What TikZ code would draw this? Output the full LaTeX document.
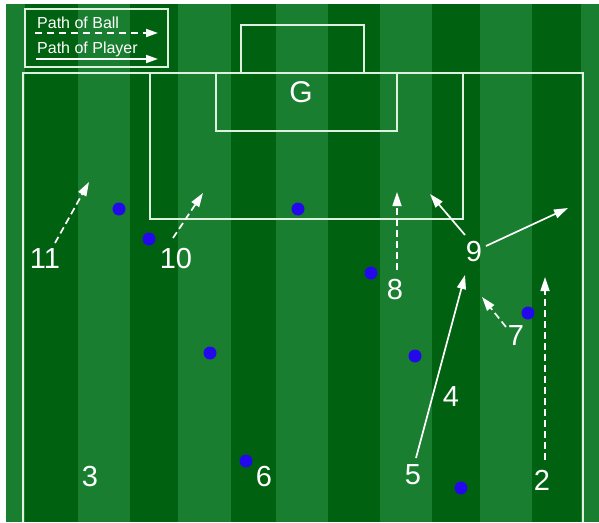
\documentclass[tikz,border=0pt]{standalone}
\usepackage{fontspec}
\setmainfont{Liberation Sans}
\usetikzlibrary{arrows.meta}
\definecolor{darkgrass}{RGB}{0,98,16}
\definecolor{lightgrass}{RGB}{25,126,48}
\definecolor{chalk}{RGB}{222,240,222}
\definecolor{playerblue}{RGB}{36,8,236}
\begin{document}
\begin{tikzpicture}[x=1pt,y=-1pt,
  fieldline/.style={draw=chalk, line width=2.2pt},
  player/.style={circle, fill=playerblue, inner sep=0pt, minimum size=13pt},
  num/.style={text=white, font=\fontsize{29}{29}\selectfont, inner sep=0pt},
  legendtext/.style={text=white, font=\fontsize{16}{16}\selectfont, inner sep=0pt, anchor=base west},
  ballpath/.style={draw=white, line width=1.7pt, dash pattern=on 7pt off 4pt, -{Triangle[length=14pt,width=9pt]}},
  playerpath/.style={draw=white, line width=1.7pt, -{Triangle[length=14pt,width=9pt]}},
  legball/.style={draw=white, line width=1.7pt, dash pattern=on 7pt off 5pt, -{Triangle[length=12pt,width=8pt]}},
  legplayer/.style={draw=white, line width=1.7pt, -{Triangle[length=12pt,width=8pt]}},
]
\useasboundingbox (0,0) rectangle (599,522);
\fill[white] (0,0) rectangle (599,522);
% stripes
\fill[lightgrass] (6,4) rectangle (599,522);
\foreach \a/\b in {25/78,130/178,231/276,328/380,432/480,532/581}
  \fill[darkgrass] (\a,4) rectangle (\b,522);
% field lines
\draw[fieldline] (23,522) -- (23,73) -- (583,73) -- (583,522);
\draw[fieldline] (241,73) -- (241,25) -- (364,25) -- (364,73);
\draw[fieldline] (216,73) -- (216,131) -- (397,131) -- (397,73);
\draw[fieldline] (150,73) -- (150,219) -- (463,219) -- (463,73);
\node[text=white, font=\fontsize{30}{30}\selectfont, inner sep=0pt] (goal) at (301,92) {G};
% legend
\draw[draw=chalk, line width=2pt] (25,9) rectangle (168,67);
\node[legendtext] (lball) at (37,28) {Path of Ball};
\node[legendtext] (lplayer) at (37,53) {Path of Player};
\coordinate (lbs) at (35,33); \coordinate (lbe) at (158,33);
\coordinate (lps) at (36,59); \coordinate (lpe) at (158,59);
\draw[legball] (lbs) -- (lbe);
\draw[legplayer] (lps) -- (lpe);
% players
\node[player] (p1) at (119,209) {};
\node[player] (p2) at (149,239) {};
\node[player] (p3) at (298,209) {};
\node[player] (p4) at (371,273) {};
\node[player] (p5) at (210,353) {};
\node[player] (p6) at (415,356) {};
\node[player] (p7) at (528,313) {};
\node[player] (p8) at (246,461) {};
\node[player] (p9) at (461,488) {};
% numbers
\node[num] (n11) at (45,259) {11};
\node[num] (n10) at (176,259) {10};
\node[num] (n8) at (395,290) {8};
\node[num] (n9) at (474,252) {9};
\node[num] (n7) at (516,336) {7};
\node[num] (n4) at (451,397) {4};
\node[num] (n5) at (413,475) {5};
\node[num] (n2) at (542,480) {2};
\node[num] (n3) at (90,477) {3};
\node[num] (n6) at (264,477) {6};
% arrow ends
\coordinate (s11) at (55,243); \coordinate (e11) at (89,182);
\coordinate (s10) at (173,238); \coordinate (e10) at (203,193);
\coordinate (s8) at (397,270); \coordinate (e8) at (397,192);
\coordinate (s9l) at (465,235); \coordinate (e9l) at (430,194);
\coordinate (s9r) at (486,246); \coordinate (e9r) at (568,208);
\coordinate (s5) at (416,458); \coordinate (e5) at (465,275);
\coordinate (s7) at (506,327); \coordinate (e7) at (482,297);
\coordinate (s2) at (545,460); \coordinate (e2) at (545,277);
\draw[ballpath] (s11) -- (e11);
\draw[ballpath] (s10) -- (e10);
\draw[ballpath] (s8) -- (e8);
\draw[ballpath] (s7) -- (e7);
\draw[ballpath] (s2) -- (e2);
\draw[playerpath] (s9l) -- (e9l);
\draw[playerpath] (s9r) -- (e9r);
\draw[playerpath] (s5) -- (e5);
\end{tikzpicture}
\end{document}
